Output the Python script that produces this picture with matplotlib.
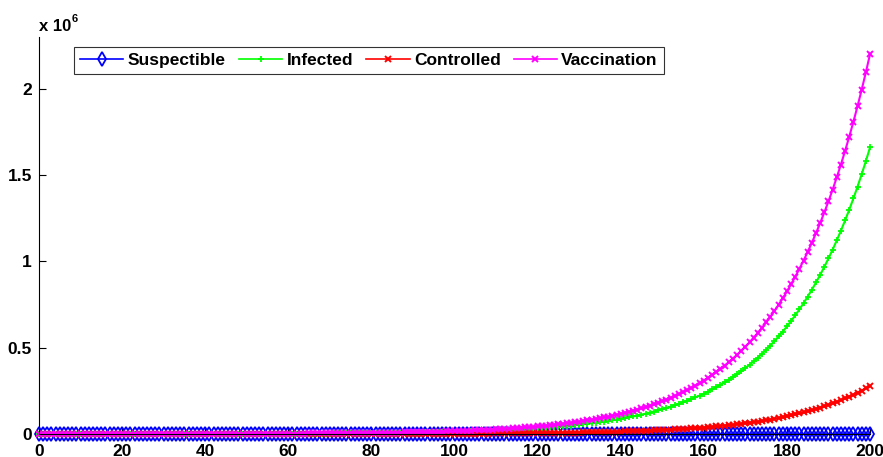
import numpy as np
import matplotlib
matplotlib.use("Agg")
import matplotlib.pyplot as plt

plt.rcParams['font.family'] = ['Liberation Sans', 'DejaVu Sans']
plt.rcParams['font.weight'] = 'bold'

# time steps 0..200
time = np.arange(0, 201)

# values in thousands
suspectible_k = [
    0.90,0.90,0.89,0.89,0.88,0.88,0.88,0.87,0.87,0.87,
    0.86,0.86,0.85,0.85,0.84,0.84,0.84,0.83,0.83,0.83,
    0.82,0.82,0.81,0.81,0.80,0.80,0.80,0.79,0.79,0.79,
    0.78,0.78,0.77,0.77,0.76,0.76,0.76,0.75,0.75,0.75,
    0.74,0.74,0.73,0.73,0.72,0.72,0.72,0.71,0.71,0.71,
    0.70,0.70,0.69,0.69,0.68,0.68,0.68,0.67,0.67,0.67,
    0.66,0.66,0.65,0.65,0.64,0.64,0.64,0.63,0.63,0.63,
    0.62,0.62,0.61,0.61,0.60,0.60,0.60,0.59,0.59,0.59,
    0.58,0.58,0.57,0.57,0.56,0.56,0.56,0.55,0.55,0.55,
    0.54,0.54,0.53,0.53,0.52,0.52,0.52,0.51,0.51,0.51,
    0.50,0.50,0.49,0.49,0.48,0.48,0.48,0.47,0.47,0.47,
    0.46,0.46,0.45,0.45,0.44,0.44,0.44,0.43,0.43,0.43,
    0.42,0.42,0.41,0.41,0.40,0.40,0.40,0.39,0.39,0.39,
    0.38,0.38,0.37,0.37,0.36,0.36,0.36,0.35,0.35,0.35,
    0.34,0.34,0.33,0.33,0.32,0.32,0.32,0.31,0.31,0.31,
    0.30,0.30,0.29,0.29,0.28,0.28,0.28,0.27,0.27,0.27,
    0.26,0.26,0.25,0.25,0.24,0.24,0.24,0.23,0.23,0.23,
    0.22,0.22,0.21,0.21,0.20,0.20,0.20,0.19,0.19,0.19,
    0.18,0.18,0.17,0.17,0.16,0.16,0.16,0.15,0.15,0.15,
    0.14,0.14,0.13,0.13,0.12,0.12,0.12,0.11,0.11,0.11,
    0.10]

infected_k = [
    0.092,0.097,0.101,0.107,0.112,0.118,0.123,0.130,0.136,0.143,
    0.150,0.158,0.165,0.174,0.182,0.192,0.201,0.211,0.222,0.233,
    0.246,0.258,0.271,0.285,0.299,0.314,0.330,0.347,0.364,0.382,
    0.400,0.420,0.441,0.463,0.487,0.511,0.537,0.564,0.592,0.622,
    0.654,0.687,0.721,0.758,0.796,0.836,0.878,0.922,0.968,1.017,
    1.067,1.121,1.177,1.236,1.298,1.363,1.432,1.504,1.579,1.658,
    1.741,1.828,1.920,2.017,2.118,2.224,2.336,2.453,2.577,2.706,
    2.842,2.985,3.135,3.292,3.457,3.631,3.813,4.005,4.206,4.417,
    4.640,4.873,5.118,5.375,5.645,5.928,6.226,6.539,6.867,7.212,
    7.573,7.953,8.353,8.773,9.213,9.675,10.16,10.67,11.21,11.77,
    12.36,12.98,13.63,14.32,15.04,15.79,16.58,17.42,18.29,19.21,
    20.18,21.19,22.26,23.38,24.55,25.78,27.08,28.44,29.87,31.37,
    32.94,34.59,36.33,38.16,40.07,42.08,44.20,46.42,48.75,51.20,
    53.77,56.47,59.31,62.29,65.41,68.70,72.15,75.77,79.58,83.58,
    87.76,92.17,96.80,101.7,106.8,112.1,117.8,123.7,129.9,136.4,
    143.2,150.4,158.0,165.9,174.2,183.0,192.1,201.8,211.9,222.6,
    233.8,245.5,257.9,270.8,284.4,298.7,313.7,329.5,346.0,363.4,
    381.7,400.9,421.0,442.2,464.3,487.7,512.2,537.9,564.9,593.3,
    623.0,654.3,687.2,721.7,757.9,796.0,835.9,877.9,922.0,968.3,
    1017.0,1068.1,1121.8,1178.1,1237.2,1299.3,1364.6,1433.2,1505.2,1580.7,
    1660.0]

controlled_k = [
    0.013,0.014,0.014,0.015,0.016,0.017,0.018,0.018,0.019,0.020,
    0.021,0.022,0.023,0.024,0.026,0.027,0.028,0.030,0.031,0.033,
    0.034,0.036,0.038,0.040,0.042,0.044,0.046,0.048,0.051,0.053,
    0.057,0.060,0.063,0.066,0.070,0.073,0.077,0.081,0.085,0.089,
    0.093,0.098,0.103,0.108,0.114,0.119,0.126,0.132,0.139,0.146,
    0.154,0.162,0.170,0.179,0.188,0.198,0.208,0.219,0.230,0.242,
    0.254,0.267,0.281,0.295,0.310,0.326,0.343,0.360,0.379,0.398,
    0.418,0.439,0.462,0.486,0.511,0.537,0.564,0.593,0.624,0.656,
    0.689,0.724,0.761,0.800,0.842,0.885,0.930,0.978,1.028,1.081,
    1.136,1.194,1.256,1.320,1.388,1.459,1.533,1.612,1.695,1.782,
    1.873,1.969,2.070,2.176,2.288,2.405,2.528,2.658,2.794,2.937,
    3.089,3.247,3.414,3.589,3.773,3.966,4.170,4.384,4.608,4.844,
    5.093,5.354,5.629,5.917,6.221,6.539,6.875,7.227,7.598,7.987,
    8.396,8.827,9.279,9.755,10.25,10.78,11.33,11.91,12.53,13.17,
    13.84,14.55,15.30,16.08,16.90,17.77,18.68,19.64,20.65,21.71,
    22.82,23.99,25.22,26.51,27.87,29.30,30.80,32.38,34.04,35.79,
    37.63,39.56,41.59,43.72,45.96,48.32,50.80,53.40,56.14,59.02,
    62.04,65.22,68.57,72.08,75.78,79.66,83.75,88.04,92.55,97.30,
    102.3,107.5,113.1,118.9,124.9,131.4,138.1,145.2,152.6,160.4,
    168.6,177.3,186.3,195.9,205.9,216.5,227.6,239.3,251.5,264.4,
    278.0]

vaccination_k = [
    0.122,0.128,0.135,0.141,0.148,0.156,0.164,0.172,0.181,0.190,
    0.199,0.209,0.220,0.231,0.242,0.254,0.267,0.281,0.295,0.309,
    0.326,0.342,0.360,0.378,0.397,0.416,0.437,0.459,0.482,0.507,
    0.530,0.557,0.585,0.614,0.645,0.677,0.711,0.747,0.784,0.824,
    0.867,0.911,0.956,1.004,1.055,1.108,1.163,1.222,1.283,1.348,
    1.415,1.486,1.561,1.639,1.721,1.808,1.899,1.994,2.094,2.199,
    2.308,2.424,2.546,2.674,2.808,2.949,3.097,3.252,3.416,3.587,
    3.766,3.955,4.154,4.363,4.581,4.811,5.053,5.307,5.574,5.853,
    6.149,6.458,6.782,7.123,7.480,7.856,8.251,8.665,9.101,9.557,
    10.04,10.54,11.07,11.63,12.21,12.83,13.47,14.15,14.86,15.60,
    16.38,17.20,18.07,18.97,19.93,20.93,21.98,23.08,24.24,25.46,
    26.75,28.09,29.50,30.99,32.54,34.18,35.89,37.70,39.59,41.58,
    43.65,45.84,48.15,50.56,53.10,55.77,58.57,61.51,64.60,67.85,
    71.26,74.84,78.60,82.55,86.69,91.04,95.62,100.4,105.5,110.8,
    116.3,122.1,128.3,134.7,141.5,148.6,156.1,163.9,172.1,180.8,
    189.8,199.3,209.4,219.9,230.9,242.5,254.7,267.5,280.9,295.0,
    309.9,325.5,341.8,359.0,377.0,395.9,415.8,436.7,458.7,481.7,
    505.8,531.2,557.9,585.9,615.3,646.2,678.7,712.8,748.6,786.2,
    825.7,867.2,910.8,956.5,1004.5,1054.9,1107.9,1163.6,1222.0,1283.4,
    1347.8,1415.5,1486.6,1561.3,1639.6,1722.0,1808.5,1899.3,1994.8,2094.9,
    2200.0]

series_names = ["Suspectible", "Infected", "Controlled", "Vaccination"]
xticks = [0, 20, 40, 60, 80, 100, 120, 140, 160, 180, 200]
yticks = [0, 0.5e6, 1e6, 1.5e6, 2e6]
ytick_labels = ["0", "0.5", "1", "1.5", "2"]

W, H = 883, 457
fig = plt.figure(figsize=(W / 100, H / 100), dpi=100)
ax = fig.add_axes([39 / W, (H - 434) / H, (870 - 39) / W, (434 - 37) / H])

ax.plot(time, np.array(suspectible_k) * 1e3, color=(0, 0, 1), lw=1.2,
        marker='d', ms=7.5, mfc='none', mew=1.3, clip_on=False, label=series_names[0])
ax.plot(time, np.array(infected_k) * 1e3, color=(0, 1, 0), lw=1.5,
        marker='+', ms=4, mew=1.3, clip_on=False, label=series_names[1])
ax.plot(time, np.array(controlled_k) * 1e3, color=(1, 0, 0), lw=1.5,
        marker='x', ms=5, mew=1.4, clip_on=False, label=series_names[2])
ax.plot(time, np.array(vaccination_k) * 1e3, color=(1, 0, 1), lw=1.5,
        marker='x', ms=5, mew=1.4, clip_on=False, label=series_names[3])

ax.set_xlim(0, 200)
ax.set_ylim(0, 2.3e6)
ax.set_xticks(xticks)
ax.set_xticklabels([str(v) for v in xticks])
ax.set_yticks(yticks)
ax.set_yticklabels(ytick_labels)
for s in ['top', 'right']:
    ax.spines[s].set_visible(False)
ax.tick_params(direction='in', length=5, width=0.8, labelsize=12.5, pad=5)
ax.tick_params(axis='x', pad=7)

fig.text(39 / W, 1 - 31 / H, "x 10", fontsize=12, fontweight='bold', ha='left', va='baseline')
fig.text(72 / W, 1 - 22 / H, "6", fontsize=8, fontweight='bold', ha='left', va='baseline')

leg = ax.legend(loc='upper left', bbox_to_anchor=((74 - 39) / (870 - 39), (434 - 47) / (434 - 37)),
                ncol=4, frameon=True, fancybox=False, borderaxespad=0,
                prop={'size': 12.5, 'weight': 'bold'},
                handlelength=2.5, handletextpad=0.25, columnspacing=0.75, borderpad=0.35)
leg.get_frame().set_edgecolor('black')
leg.get_frame().set_linewidth(0.8)
for h in leg.get_lines():
    h.set_linewidth(1.2)

fig.savefig("out.png", dpi=100)
